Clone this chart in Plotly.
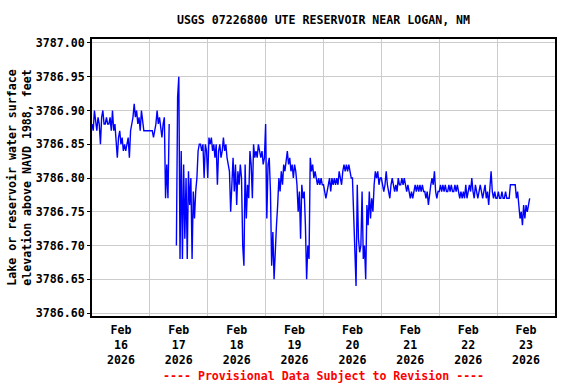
import pandas as pd
import plotly.graph_objects as go

# Lake elevation (ft NAVD88), 30-minute readings starting Feb 16 00:00
feb16 = [3786.88, 3786.87, 3786.90, 3786.88, 3786.87, 3786.89, 3786.88, 3786.85,
         3786.89, 3786.90, 3786.88, 3786.88, 3786.89, 3786.88, 3786.88, 3786.89,
         3786.87, 3786.90, 3786.87, 3786.88, 3786.86, 3786.83, 3786.86, 3786.87,
         3786.85, 3786.86, 3786.84, 3786.85, 3786.84, 3786.85, 3786.86, 3786.83,
         3786.87, 3786.88, 3786.89, 3786.91, 3786.89, 3786.90, 3786.88, 3786.89,
         3786.87, 3786.90, 3786.88, 3786.87, 3786.87, 3786.87, 3786.87, 3786.87]
feb17 = [3786.87, 3786.87, 3786.87, 3786.86, 3786.87, 3786.88, 3786.90, 3786.88,
         3786.89, 3786.87, 3786.86, 3786.88, 3786.89, 3786.77, 3786.82, 3786.77,
         3786.88, None, None, None, None, None, 3786.70, 3786.92,
         3786.95, 3786.68, 3786.84, 3786.68, 3786.82, 3786.71, 3786.80, 3786.68,
         3786.81, 3786.76, 3786.80, 3786.68, 3786.78, 3786.74, 3786.78, 3786.80,
         3786.84, 3786.85, 3786.85, 3786.84, 3786.85, 3786.80, 3786.85, 3786.84]
feb18 = [3786.80, 3786.86, 3786.85, 3786.86, 3786.84, 3786.85, 3786.83, 3786.85,
         3786.79, 3786.84, 3786.85, 3786.83, 3786.84, 3786.86, 3786.84, 3786.85,
         3786.83, 3786.82, 3786.81, 3786.75, 3786.80, 3786.83, 3786.78, 3786.82,
         3786.76, 3786.81, 3786.79, 3786.82, 3786.80, 3786.70, 3786.67, 3786.82,
         3786.74, 3786.79, 3786.77, 3786.84, 3786.82, 3786.77, 3786.85, 3786.83,
         3786.84, 3786.83, 3786.85, 3786.84, 3786.83, 3786.84, 3786.82, 3786.83]
feb19 = [3786.88, 3786.74, 3786.82, 3786.83, 3786.78, 3786.67, 3786.72, 3786.65,
         3786.70, 3786.73, 3786.76, 3786.80, 3786.78, 3786.81, 3786.79, 3786.82,
         3786.81, 3786.83, 3786.84, 3786.82, 3786.83, 3786.81, 3786.82, 3786.80,
         3786.82, 3786.81, 3786.79, 3786.75, 3786.78, 3786.71, 3786.79, 3786.77,
         3786.78, 3786.73, 3786.65, 3786.70, 3786.68, 3786.83, 3786.81, 3786.82,
         3786.80, 3786.81, 3786.80, 3786.79, 3786.80, 3786.79, 3786.80, 3786.79]
feb20 = [3786.79, 3786.78, 3786.77, 3786.78, 3786.79, 3786.80, 3786.78, 3786.80,
         3786.79, 3786.80, 3786.79, 3786.80, 3786.79, 3786.81, 3786.80, 3786.79,
         3786.81, 3786.82, 3786.81, 3786.82, 3786.81, 3786.82, 3786.81, 3786.80,
         3786.80, 3786.74, 3786.70, 3786.64, 3786.79, 3786.71, 3786.69, 3786.70,
         3786.78, 3786.68, 3786.70, 3786.65, 3786.76, 3786.73, 3786.78, 3786.74,
         3786.77, 3786.75, 3786.79, 3786.81, 3786.80, 3786.81, 3786.79, 3786.80]
feb21 = [3786.80, 3786.79, 3786.78, 3786.79, 3786.81, 3786.79, 3786.78, 3786.77,
         3786.79, 3786.80, 3786.79, 3786.78, 3786.79, 3786.78, 3786.80, 3786.79,
         3786.79, 3786.80, 3786.79, 3786.80, 3786.79, 3786.78, 3786.79, 3786.78,
         3786.77, 3786.78, 3786.77, 3786.78, 3786.79, 3786.78, 3786.79, 3786.78,
         3786.79, 3786.78, 3786.79, 3786.78, 3786.78, 3786.77, 3786.78, 3786.76,
         3786.78, 3786.79, 3786.80, 3786.79, 3786.81, 3786.78, 3786.77, 3786.78]
feb22 = [3786.78, 3786.79, 3786.78, 3786.79, 3786.78, 3786.79, 3786.78, 3786.78,
         3786.79, 3786.78, 3786.79, 3786.78, 3786.78, 3786.79, 3786.78, 3786.79,
         3786.78, 3786.77, 3786.78, 3786.77, 3786.78, 3786.77, 3786.79, 3786.77,
         3786.78, 3786.79, 3786.78, 3786.80, 3786.78, 3786.77, 3786.79, 3786.78,
         3786.77, 3786.78, 3786.79, 3786.78, 3786.77, 3786.78, 3786.79, 3786.77,
         3786.78, 3786.76, 3786.78, 3786.81, 3786.78, 3786.77, 3786.78, 3786.77]
feb23 = [3786.77, 3786.78, 3786.77, 3786.77, 3786.78, 3786.77, 3786.77, 3786.78,
         3786.77, 3786.77, 3786.77, 3786.79, 3786.79, 3786.79, 3786.79, 3786.79,
         3786.77, 3786.78, 3786.76, 3786.74, 3786.75, 3786.73, 3786.76, 3786.74,
         3786.76, 3786.75, 3786.76, 3786.77]

start_time = "2026-02-16 00:00"
interval = "30min"
x_range = ["2026-02-16 00:00", "2026-02-24 00:00"]
y_range = [3786.5956, 3787.0059]
y_ticks = [3786.60, 3786.65, 3786.70, 3786.75, 3786.80, 3786.85, 3786.90, 3786.95, 3787.00]
y_ticktext = ["3786.60", "3786.65", "3786.70", "3786.75", "3786.80",
              "3786.85", "3786.90", "3786.95", "3787.00"]

values = feb16 + feb17 + feb18 + feb19 + feb20 + feb21 + feb22 + feb23
times = pd.date_range(start_time, periods=len(values), freq=interval)

FONT = "DejaVu Sans Mono"
FS = 11.6

fig = go.Figure()
fig.add_trace(go.Scatter(x=times, y=values, mode="lines",
                         line=dict(color="#0000ff", width=1.4),
                         connectgaps=False, showlegend=False))

fig.update_layout(
    width=576, height=384,
    margin=dict(l=92, r=21, t=39, b=68, autoexpand=False),
    paper_bgcolor="white", plot_bgcolor="white",
    title=dict(text="USGS 07226800 UTE RESERVOIR NEAR LOGAN, NM",
               x=0.5, xref="paper", xanchor="center",
               y=1 - 20 / 384, yref="container", yanchor="middle",
               font=dict(family=FONT, size=FS, color="black", weight="bold")),
    annotations=[dict(text="---- Provisional Data Subject to Revision ----",
                      xref="paper", yref="paper", x=0.5, y=(316 - 376) / 277,
                      xanchor="center", yanchor="middle", showarrow=False,
                      font=dict(family=FONT, size=FS, color="#ff0000", weight="bold"))],
)

fig.update_xaxes(
    type="date", range=x_range, dtick=86400000, tick0="2026-02-16",
    ticklabelmode="period", tickformat="%b<br>%d<br>%Y",
    ticklabelstandoff=2,
    showgrid=True, gridcolor="#cccccc", gridwidth=1,
    showline=True, linecolor="black", linewidth=2, mirror=True,
    ticks="", zeroline=False,
    tickfont=dict(family=FONT, size=FS, color="black", weight="bold"),
)
fig.update_yaxes(
    range=y_range, tickvals=y_ticks, ticktext=y_ticktext,
    showgrid=True, gridcolor="#cccccc", gridwidth=1,
    showline=True, linecolor="black", linewidth=2, mirror=True,
    ticks="outside", ticklen=3, tickcolor="black", zeroline=False,
    tickfont=dict(family=FONT, size=FS, color="black", weight="bold"),
    title=dict(text="Lake or reservoir water surface<br>elevation above NAVD 1988, feet",
               standoff=2,
               font=dict(family=FONT, size=FS, color="black", weight="bold")),
)

fig.write_html("out.html", config={"displayModeBar": False},
               post_script="document.body.style.margin='0';document.body.style.padding='0';")
